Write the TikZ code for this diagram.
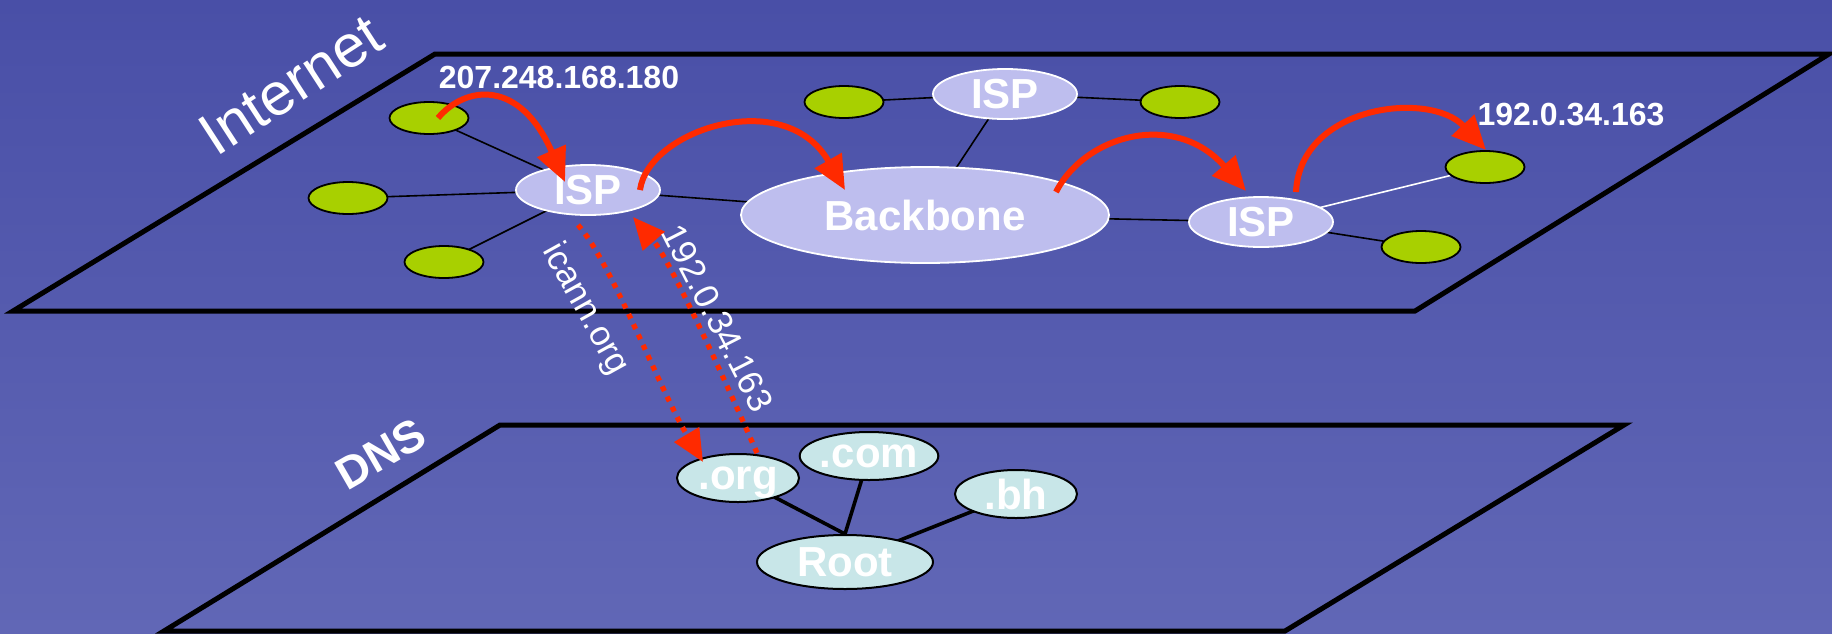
\documentclass[tikz,border=0pt]{standalone}
\usepackage{fontspec}
\setmainfont{Liberation Sans}
\usetikzlibrary{shapes.geometric,arrows.meta,backgrounds}

\definecolor{bgtop}{RGB}{73,79,167}
\definecolor{bgbot}{RGB}{97,103,182}
\definecolor{leaf}{RGB}{168,208,0}
\definecolor{lav}{RGB}{190,190,238}
\definecolor{pale}{RGB}{200,230,232}
\definecolor{hopred}{RGB}{255,42,0}

\tikzset{
  host/.style={ellipse, draw=black, fill=leaf, line width=0.9pt,
    minimum width=39.5pt, minimum height=16pt, inner sep=0pt},
  isp/.style={ellipse, draw=white, fill=lav, line width=0.9pt,
    minimum width=72pt, minimum height=25pt, inner sep=0pt, text=white,
    font=\bfseries\fontsize{21}{21}\selectfont},
  core/.style={isp, minimum width=184pt, minimum height=48pt},
  dnsnode/.style={ellipse, draw=black, fill=pale, line width=1pt,
    minimum width=61pt, minimum height=24pt, inner sep=0pt, text=white,
    text depth=0pt, font=\bfseries\fontsize{21}{21}\selectfont},
  rootnode/.style={dnsnode, minimum width=88pt, minimum height=27pt},
  link/.style={draw=black, line width=0.8pt},
  whitelink/.style={draw=white, line width=0.8pt},
  dnslink/.style={draw=black, line width=1.8pt},
  sheet/.style={draw=black, line width=2.5pt, line join=miter},
  hop/.style={draw=hopred, line width=3pt,
    -{Triangle[length=17pt,width=15pt]}},
  query/.style={draw=hopred, line width=2.6pt, dash pattern=on 2.6pt off 3.1pt,
    -{Triangle[length=16pt,width=14pt]}},
  ipnum/.style={text=white, inner sep=0pt,
    font=\bfseries\fontsize{16}{16}\selectfont},
  qtext/.style={text=white, inner sep=0pt,
    font=\fontsize{17.5}{17.5}\selectfont},
  layername/.style={text=white, inner sep=0pt}
}

\begin{document}
\begin{tikzpicture}[x=0.5pt,y=-0.5pt]
\useasboundingbox (0,0) rectangle (1832,633);

% Internet layer
\node[host] (g1) at (429,118) {};
\node[host] (g2) at (348,198) {};
\node[host] (g3) at (444,262) {};
\node[isp]  (isp1) at (588,190) {ISP};
\node[isp]  (isptop) at (1005,94) {ISP};
\node[host] (g4) at (844,102) {};
\node[host] (g5) at (1180,102) {};
\node[core] (bb) at (925,215) {Backbone};
\node[isp]  (isp2) at (1261,222) {ISP};
\node[host] (g6) at (1485,167) {};
\node[host] (g7) at (1421,247) {};

% DNS layer
\node[dnsnode] (org) at (738,478) {.org};
\node[dnsnode] (com) at (869,456) {.com};
\node[dnsnode] (bh) at (1016,494) {.bh};
\node[rootnode] (root) at (845,562) {Root};

\begin{scope}[on background layer]
  \shade[top color=bgtop,bottom color=bgbot] (0,0) rectangle (1832,633);
  \draw[sheet] (435,54) -- (1829,54) -- (1415,311) -- (13,311) -- cycle;
  \draw[sheet] (500,425) -- (1624,425) -- (1285,631) -- (164,631) -- cycle;
  \draw[link] (g1.center) -- (isp1.center);
  \draw[link] (g2.center) -- (isp1.center);
  \draw[link] (g3.center) -- (isp1.center);
  \draw[link] (isp1.center) -- (bb.center);
  \draw[link] (g4.center) -- (isptop.center);
  \draw[link] (isptop.center) -- (g5.center);
  \draw[link] (isptop.center) -- (bb.center);
  \draw[link] (bb.center) -- (isp2.center);
  \draw[whitelink] (isp2.center) -- (g6.center);
  \draw[link] (isp2.center) -- (g7.center);
  \draw[dnslink] (org.center) -- (root.north);
  \draw[dnslink] (com.center) -- (root.north);
  \draw[dnslink] (bh.center) -- (root.center);
\end{scope}

% packet route
\draw[hop] ([shift={(9,0)}]g1.center) .. controls +(28,-33) and +(-45,-103) .. ([shift={(-23,-8)}]isp1.center);
\draw[hop] ([shift={(52,0)}]isp1.center) .. controls +(8,-60) and +(-60,-105) .. ([shift={(-80,-25)}]bb.center);
\draw[hop] ([shift={(131,-23)}]bb.center) .. controls +(29,-57) and +(-71,-81) .. ([shift={(-15,-31)}]isp2.center);
\draw[hop] ([shift={(35,-30)}]isp2.center) .. controls +(4,-87) and +(-56,-60) .. ([shift={(1,-17)}]g6.center);

% name lookup
\draw[query] ([shift={(-10,35)}]isp1.center) .. controls +(32,35) and +(-43,-72) .. ([shift={(-35,-16)}]org.center);
\draw[query] ([shift={(19,-25)}]org.center) .. controls +(-32,-73) and +(37,43) .. ([shift={(45,27)}]isp1.center);

% labels
\node[ipnum] (srcip) at (559,77) {207.248.168.180};
\node[ipnum] (dstip) at (1571,115) {192.0.34.163};
\node[qtext, rotate=-61] (qname) at (585,309) {icann.org};
\node[qtext, rotate=-63] (answer) at (718,318) {192.0.34.163};
\node[layername, rotate=33, font=\fontsize{30}{30}\selectfont] (inet) at (291,85) {Internet};
\node[layername, rotate=30, font=\bfseries\fontsize{22.5}{22.5}\selectfont] (dnsname) at (381,454) {DNS};
\end{tikzpicture}
\end{document}
